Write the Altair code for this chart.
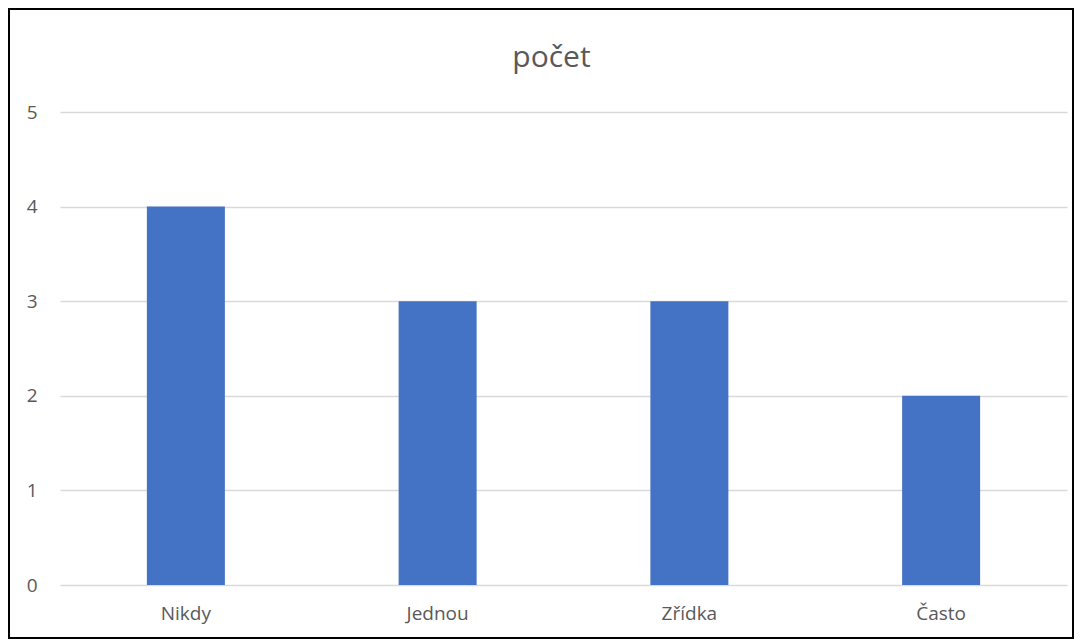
import altair as alt
import pandas as pd

categories = ["Nikdy", "Jednou", "Zřídka", "Často"]
values = [4, 3, 3, 2]
title_text = "počet"

df = pd.DataFrame({"kategorie": categories, "pocet": values})

W, H = 1007, 473
FONT = "Open Sans"
GRAY = "#595959"

bars = alt.Chart(df).mark_bar(color="#4472C4", size=78).encode(
    x=alt.X("kategorie:N", sort=categories, title=None,
            scale=alt.Scale(paddingInner=0, paddingOuter=0),
            axis=alt.Axis(labelAngle=0, ticks=False, domain=False, grid=False,
                          labelPadding=19, labelFontSize=19, labelColor=GRAY,
                          labelFont=FONT)),
    y=alt.Y("pocet:Q", title=None,
            scale=alt.Scale(domain=[0, 5]),
            axis=alt.Axis(values=[0, 1, 2, 3, 4, 5], ticks=False, domain=False,
                          gridColor="#d9d9d9", gridWidth=1.3, labelPadding=23,
                          labelFontSize=19, labelColor=GRAY, labelFont=FONT)),
)

frame = alt.Chart(pd.DataFrame({"a": [0]})).mark_rect(
    fill=None, stroke="black", strokeWidth=2, clip=False
).encode(
    x=alt.value(-51), x2=alt.value(1013), y=alt.value(-103), y2=alt.value(526)
)

title = alt.Chart(pd.DataFrame({"t": [title_text]})).mark_text(
    font=FONT, fontSize=30, color=GRAY, baseline="alphabetic", align="center"
).encode(
    text="t:N", x=alt.value(W / 2 - 12), y=alt.value(-45)
)

chart = alt.layer(frame, bars, title).properties(
    width=W, height=H,
    padding={"left": 52, "top": 104, "right": 8, "bottom": 56},
    autosize=alt.AutoSizeParams(type="none"),
).configure_view(stroke=None)

chart.save("out.html", embed_options={"renderer": "svg", "actions": False})
